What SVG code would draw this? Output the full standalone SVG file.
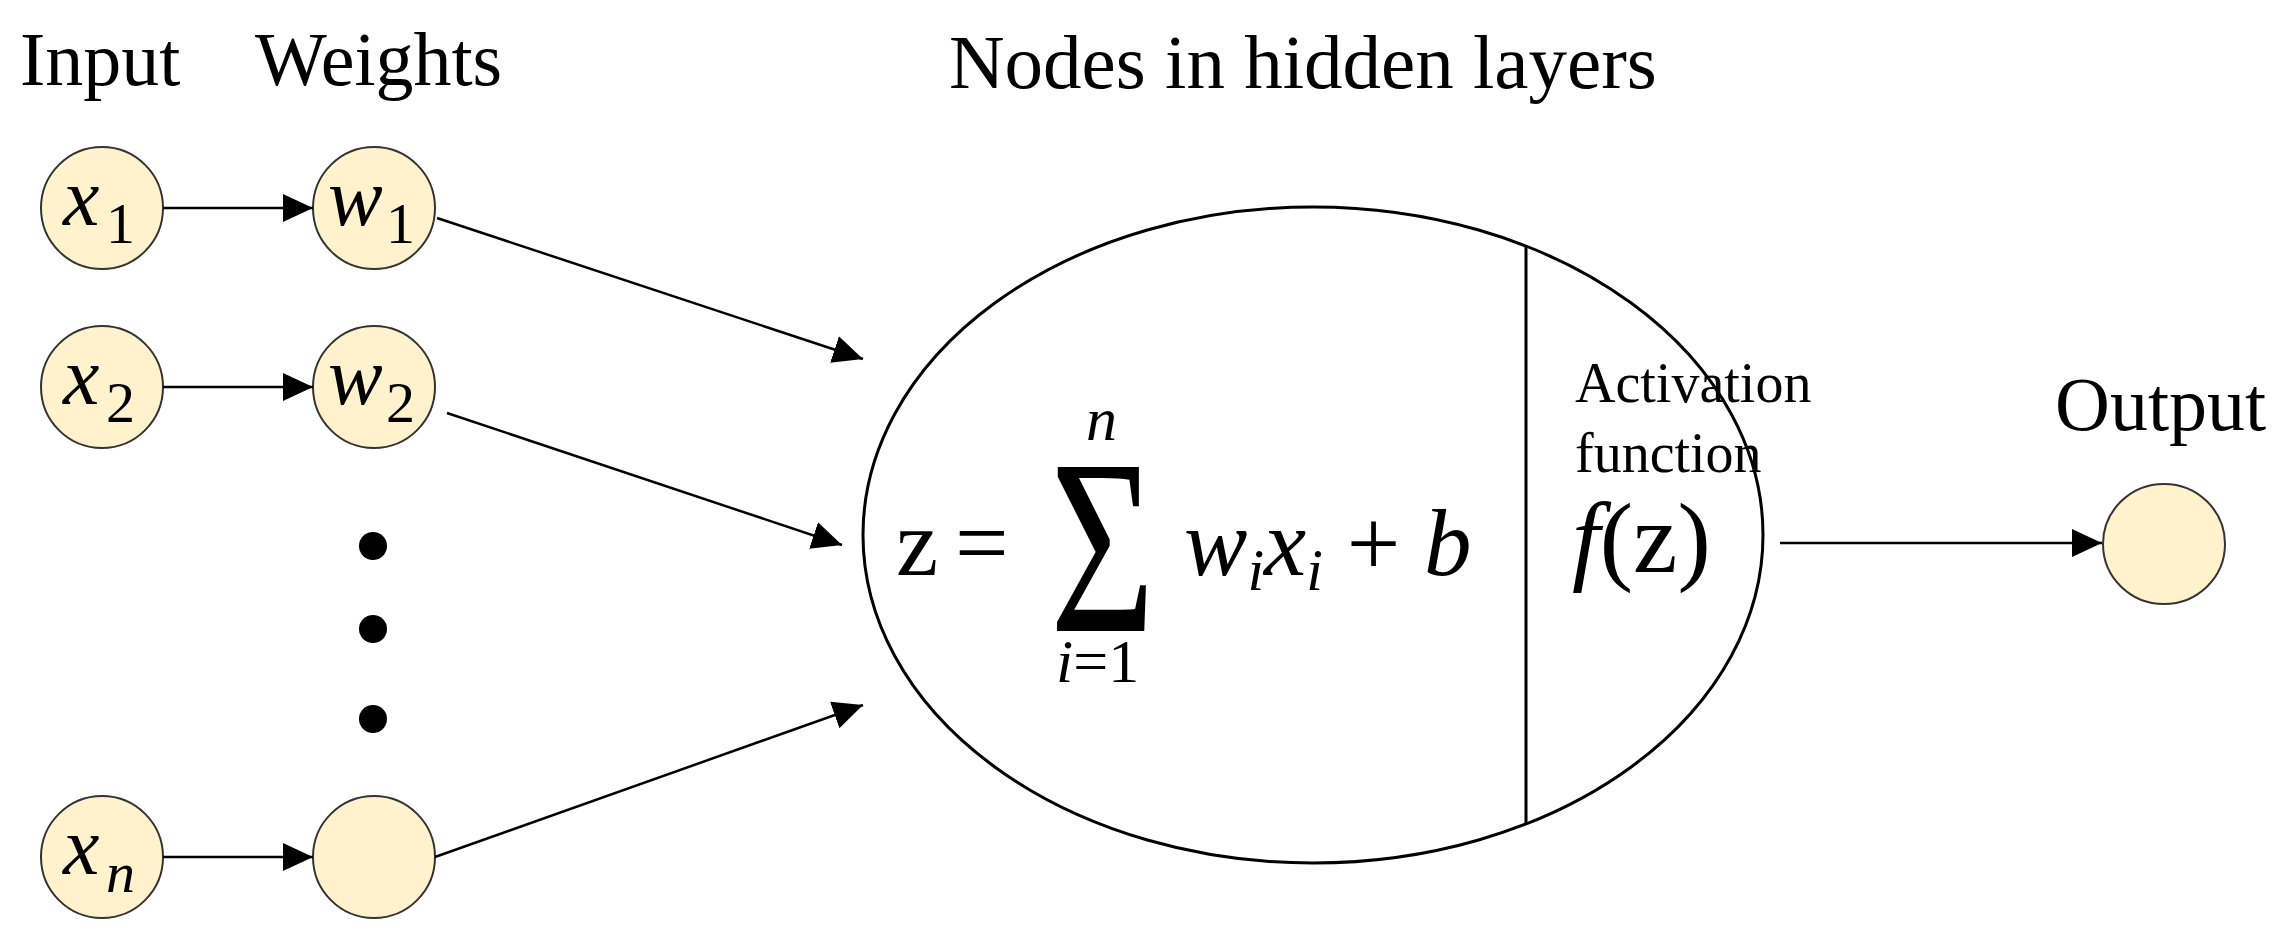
<svg xmlns="http://www.w3.org/2000/svg" width="2283" height="948" viewBox="0 0 2283 948">
<defs>
<marker id="ahb" viewBox="0 0 10 10" refX="10" refY="5" markerWidth="30" markerHeight="28" markerUnits="userSpaceOnUse" orient="auto" preserveAspectRatio="none">
<path d="M0,0 L10,5 L0,10 z" fill="#000"/>
</marker>
</defs>
<style>
.t{font-family:"Liberation Serif","Times New Roman",serif;fill:#000}
.m{font-family:"Liberation Serif","DejaVu Serif",serif;font-style:italic;fill:#000}
.node{fill:#fff2cc;stroke:#333;stroke-width:2}
.c line{stroke:#000;stroke-width:2.5;marker-end:url(#ahb)}
</style>
<rect width="2283" height="948" fill="#fff"/>
<text class="t" x="20" y="85" font-size="76">Input</text>
<text class="t" x="255" y="85" font-size="76">Weights</text>
<text class="t" x="949" y="88" font-size="77">Nodes in hidden layers</text>
<text class="t" x="2055" y="430" font-size="76">Output</text>

<g id="x1"><circle class="node" cx="102" cy="208" r="61"/><text class="m" x="63" y="225" font-size="82">x</text><text class="t" x="106" y="243" font-size="58">1</text></g>
<g id="x2"><circle class="node" cx="102" cy="387" r="61"/><text class="m" x="63" y="404" font-size="82">x</text><text class="t" x="106" y="422" font-size="58">2</text></g>
<g id="xn"><circle class="node" cx="102" cy="857" r="61"/><text class="m" x="63" y="874" font-size="82">x</text><text class="m" x="106" y="892" font-size="58">n</text></g>
<g id="w1"><circle class="node" cx="374" cy="208" r="61"/><text class="m" x="328" y="225" font-size="82">w</text><text class="t" x="386" y="243" font-size="58">1</text></g>
<g id="w2"><circle class="node" cx="374" cy="387" r="61"/><text class="m" x="328" y="404" font-size="82">w</text><text class="t" x="386" y="422" font-size="58">2</text></g>
<g id="wn"><circle class="node" cx="374" cy="857" r="61"/></g>
<g id="dots"><circle cx="373" cy="546" r="14"/><circle cx="373" cy="629" r="14"/><circle cx="373" cy="719" r="14"/></g>

<g id="neuron">
<ellipse cx="1313" cy="535" rx="450" ry="328" fill="none" stroke="#000" stroke-width="3"/>
<line x1="1526" y1="247" x2="1526" y2="823" stroke="#000" stroke-width="3"/>
<text class="t" x="896" y="575" font-size="95">z</text>
<text class="t" x="955" y="575" font-size="95">=</text>
<text class="t" x="1050" y="631" font-size="250" textLength="105" lengthAdjust="spacingAndGlyphs">Σ</text>
<text class="m" x="1086" y="440" font-size="62">n</text>
<text x="1056" y="682" font-size="62" class="t"><tspan font-style="italic">i</tspan>=1</text>
<text class="m" x="1184" y="575" font-size="95">w<tspan font-size="60" dy="15">i</tspan><tspan dy="-15">x</tspan><tspan font-size="60" dy="15">i</tspan><tspan dy="-15" font-style="normal"> + </tspan>b</text>
<text class="t" x="1575" y="402" font-size="56">Activation</text>
<text class="t" x="1575" y="472" font-size="56">function</text>
<text class="m" x="1572" y="572" font-size="100">f<tspan font-style="normal">(z)</tspan></text>
</g>
<g id="out"><ellipse class="node" cx="2164" cy="544" rx="61" ry="60"/></g>

<g class="c" id="connectors">
<line x1="163" y1="208" x2="313" y2="208"/>
<line x1="163" y1="387" x2="313" y2="387"/>
<line x1="163" y1="857" x2="313" y2="857"/>
<line x1="437" y1="218" x2="863" y2="359"/>
<line x1="447" y1="413" x2="842" y2="545"/>
<line x1="435" y1="857" x2="863" y2="705"/>
<line x1="1780" y1="543" x2="2102" y2="543"/>
</g>
</svg>
